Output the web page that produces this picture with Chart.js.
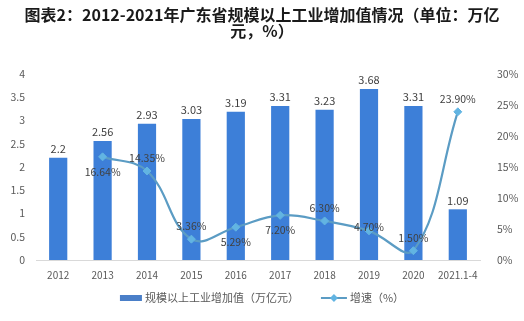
<!DOCTYPE html>
<html>
<head>
<meta charset="utf-8">
<script src="https://cdn.jsdelivr.net/npm/chart.js@4.4.1/dist/chart.umd.min.js"></script>
<style>
  html, body { margin: 0; background: #fff; }
  canvas { display: block; }
</style>
</head>
<body>
<canvas id="chart" width="524" height="321"></canvas>
<script>
// data
const categories = ['2012', '2013', '2014', '2015', '2016', '2017', '2018', '2019', '2020', '2021.1-4'];
const addedValue = [2.2, 2.56, 2.93, 3.03, 3.19, 3.31, 3.23, 3.68, 3.31, 1.09];   // 万亿元
const growthRate = [null, 16.64, 14.35, 3.36, 5.29, 7.20, 6.30, 4.70, 1.50, 23.90]; // %
const leftMax = 4, leftStep = 0.5;
const rightMax = 30, rightStep = 5;

// where each growth label sits relative to its point
const rateLabelSide = [null, 'below', 'above', 'above', 'below', 'below', 'above', 'near', 'above', 'above'];

const titleLines = ['图表2：2012-2021年广东省规模以上工业增加值情况（单位：万亿', '元，%）'];
const barName = '规模以上工业增加值（万亿元）';
const lineName = '增速（%）';

const FONT = '"Noto Sans CJK SC", "Noto Sans", sans-serif';
const barColor = '#3d7fd8';
const lineColor = '#5b9cc4';
const markerColor = '#62b4e2';
const textColor = '#404040';
const tickColor = '#595959';

const valueLabels = {
    id: 'valueLabels',
    afterDatasetsDraw(chart) {
        const ctx = chart.ctx;
        ctx.save();
        ctx.textAlign = 'center';
        ctx.textBaseline = 'middle';
        ctx.fillStyle = textColor;
        ctx.font = '11px ' + FONT;
        chart.getDatasetMeta(0).data.forEach((bar, i) => {
            ctx.fillText(String(addedValue[i]), bar.x, bar.y - 9);
        });
        ctx.font = '10.5px ' + FONT;
        chart.getDatasetMeta(1).data.forEach((pt, i) => {
            if (growthRate[i] == null) return;
            const side = rateLabelSide[i];
            const dy = side === 'below' ? 15 : side === 'near' ? -4 : -13;
            ctx.fillText(growthRate[i].toFixed(2) + '%', pt.x, pt.y + dy);
        });
        ctx.restore();
    }
};

// legend drawn by hand: wide flat swatch for bars, line with a diamond for the rate
const bottomLegend = {
    id: 'bottomLegend',
    afterDraw(chart) {
        const ctx = chart.ctx;
        ctx.save();
        ctx.font = '11px ' + FONT;
        ctx.textBaseline = 'middle';
        const y = 298;
        const sw = 22, gap = 3, between = 22;
        const w1 = ctx.measureText(barName).width;
        const w2 = ctx.measureText(lineName).width;
        const total = sw + gap + w1 + between + 26 + gap + w2;
        let x = chart.width / 2 - total / 2;

        ctx.fillStyle = '#4a7fc8';
        ctx.fillRect(x, y - 3, sw, 6);
        x += sw + gap;
        ctx.fillStyle = tickColor;
        ctx.fillText(barName, x, y);
        x += w1 + between;

        ctx.strokeStyle = lineColor;
        ctx.lineWidth = 2;
        ctx.beginPath();
        ctx.moveTo(x, y);
        ctx.lineTo(x + 26, y);
        ctx.stroke();
        ctx.fillStyle = markerColor;
        ctx.beginPath();
        ctx.moveTo(x + 13, y - 4);
        ctx.lineTo(x + 17, y);
        ctx.lineTo(x + 13, y + 4);
        ctx.lineTo(x + 9, y);
        ctx.closePath();
        ctx.fill();
        x += 26 + gap;
        ctx.fillStyle = tickColor;
        ctx.fillText(lineName, x, y);
        ctx.restore();
    }
};

new Chart(document.getElementById('chart'), {
    data: {
        labels: categories,
        datasets: [{
            type: 'bar',
            label: barName,
            data: addedValue,
            backgroundColor: barColor,
            yAxisID: 'y',
            categoryPercentage: 1,
            barPercentage: 0.41,
            order: 2
        }, {
            type: 'line',
            label: lineName,
            data: growthRate,
            yAxisID: 'y1',
            borderColor: lineColor,
            borderWidth: 2.2,
            tension: 0.4,
            pointStyle: 'rectRot',
            pointRadius: 4,
            pointBackgroundColor: markerColor,
            pointBorderColor: markerColor,
            pointBorderWidth: 1,
            order: 1
        }]
    },
    options: {
        responsive: false,
        animation: false,
        layout: { padding: { left: 0, right: 0, top: 0, bottom: 41 } },
        plugins: {
            legend: { display: false },
            tooltip: { enabled: false },
            title: {
                display: true,
                text: titleLines,
                color: '#1a1a1a',
                font: { family: FONT, size: 16, weight: 'bold', lineHeight: 1 },
                padding: { top: 7, bottom: 35 }
            }
        },
        scales: {
            x: {
                grid: { display: false, drawTicks: false },
                border: { color: '#d9d9d9' },
                ticks: {
                    color: tickColor,
                    font: { family: FONT, size: 10 },
                    padding: 9,
                    autoSkip: false,
                    maxRotation: 0,
                    minRotation: 0
                },
                afterFit(scale) { scale.height = 20; }
            },
            y: {
                position: 'left',
                min: 0,
                max: leftMax,
                grid: { display: false, drawTicks: false },
                border: { display: false },
                ticks: {
                    stepSize: leftStep,
                    color: tickColor,
                    font: { family: FONT, size: 10.5 },
                    padding: 11,
                    callback: v => String(+v.toFixed(1))
                },
                afterFit(scale) { scale.width = 36; }
            },
            y1: {
                position: 'right',
                min: 0,
                max: rightMax,
                grid: { display: false, drawTicks: false },
                border: { display: false },
                ticks: {
                    stepSize: rightStep,
                    color: tickColor,
                    font: { family: FONT, size: 10.5 },
                    padding: 17,
                    callback: v => v + '%'
                },
                afterFit(scale) { scale.width = 44; }
            }
        }
    },
    plugins: [valueLabels, bottomLegend]
});
</script>
</body>
</html>
